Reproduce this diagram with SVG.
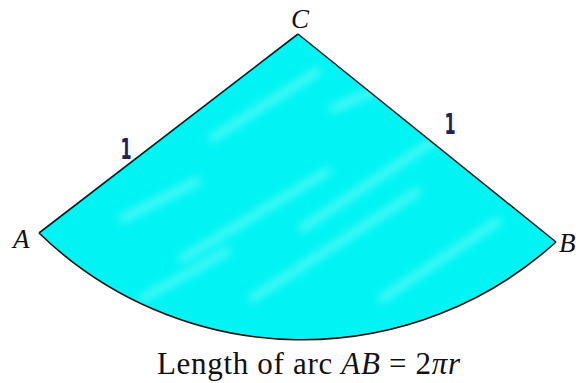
<svg xmlns="http://www.w3.org/2000/svg" width="576" height="383" viewBox="0 0 576 383">
<defs>
<style>
.lbl{font-family:"Liberation Serif","Times New Roman",serif;font-style:italic;fill:#111;font-size:27px}
.one{font-family:"DejaVu Sans",sans-serif;fill:#22225a;font-size:29px;font-weight:bold}
.cap{font-family:"Liberation Serif","Times New Roman",serif;fill:#111;font-size:31px}
.edge{fill:none;stroke:#1a1a1a;stroke-width:1.6}
</style>
<filter id="blur" x="-20%" y="-20%" width="140%" height="140%"><feGaussianBlur stdDeviation="5"/></filter>
<clipPath id="sec"><path d="M298 34 L39 233 A378 378 0 0 0 556 242 Z"/></clipPath>
</defs>
<rect width="576" height="383" fill="#fff"/>
<g id="sector">
<path d="M298 34 L39 233 A378 378 0 0 0 556 242 Z" fill="#00f4f4"/>
<g clip-path="url(#sec)" filter="url(#blur)" stroke="#c0ffff" stroke-width="6" opacity="0.55" fill="none">
<path d="M120 220 L200 180"/>
<path d="M210 140 L320 70"/>
<path d="M180 260 L330 170"/>
<path d="M250 300 L420 190"/>
<path d="M330 110 L400 80"/>
<path d="M380 300 L500 220"/>
<path d="M300 230 L450 130"/>
<path d="M140 300 L230 250"/>
</g>
</g>
<g id="connectors">
<path class="edge" d="M298 34 L39 233"/>
<path class="edge" d="M298 34 L556 242"/>
<path class="edge" d="M39 233 A378 378 0 0 0 556 242"/>
</g>
<g id="C"><text class="lbl" x="300" y="28" text-anchor="middle">C</text></g>
<g id="A"><text class="lbl" x="13" y="248">A</text></g>
<g id="B"><text class="lbl" x="559" y="252">B</text></g>
<g id="len1"><text class="one" x="126" y="159" text-anchor="middle" transform="translate(126 0) scale(0.55 1) translate(-126 0)">1</text></g>
<g id="len2"><text class="one" x="450" y="134" text-anchor="middle" transform="translate(450 0) scale(0.55 1) translate(-450 0)">1</text></g>
<g id="caption"><text class="cap" x="157" y="374" textLength="303" lengthAdjust="spacing">Length of arc <tspan font-style="italic">AB</tspan> = 2<tspan font-style="italic">πr</tspan></text></g>
</svg>
